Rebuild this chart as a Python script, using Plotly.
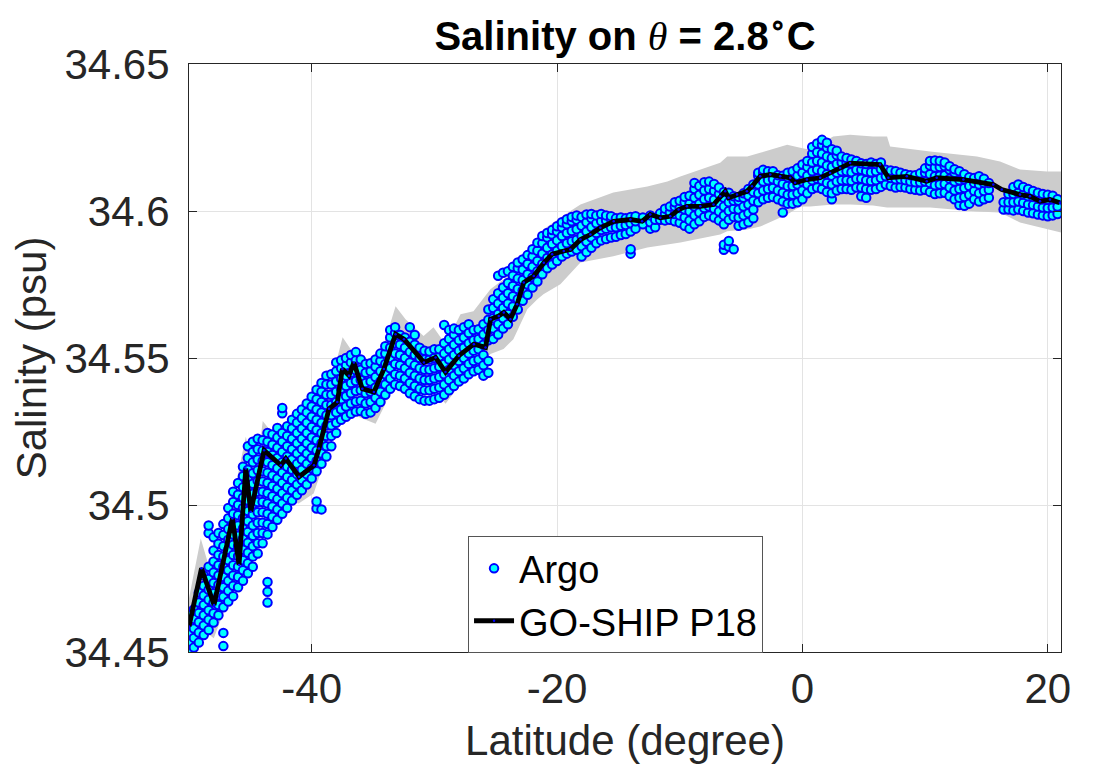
import plotly.graph_objects as go

# ---------------- data ----------------
# GO-SHIP P18 section (latitude, salinity)
ship_lat = [-50.0, -48.98, -47.96, -46.46, -45.92, -45.37, -44.97, -43.88, -42.52, -42.11,
            -41.03, -39.81, -39.41, -38.59, -37.91, -37.50, -36.96, -36.56, -35.87, -34.93,
            -34.11, -33.16, -32.48, -30.85, -29.90, -29.09, -28.00, -26.78, -25.83, -25.42,
            -24.75, -24.34, -23.80, -23.25, -22.71, -21.90, -21.08, -20.40, -19.45, -18.91,
            -18.09, -17.28, -16.47, -15.38, -14.02, -13.07, -12.40, -11.58, -10.77, -10.09,
            -9.41, -8.32, -7.24, -6.70, -6.29, -6.02, -5.33, -4.52, -4.11, -3.44,
            -2.62, -1.81, -0.99, -0.59, 0.37, 1.45, 2.26, 3.08, 3.89, 6.33,
            7.01, 8.51, 10.14, 10.95, 13.12, 15.56, 16.25, 17.74, 18.55, 19.37,
            20.18, 20.99]
ship_sal = [34.4587, 34.4785, 34.4660, 34.4954, 34.4796, 34.5124, 34.4977, 34.5186, 34.5135, 34.5158,
            34.5096, 34.5135, 34.5192, 34.5327, 34.5350, 34.5463, 34.5440, 34.5485, 34.5395, 34.5384,
            34.5463, 34.5581, 34.5564, 34.5485, 34.5502, 34.5452, 34.5508, 34.5547, 34.5536, 34.5632,
            34.5643, 34.5655, 34.5632, 34.5683, 34.5757, 34.5779, 34.5824, 34.5853, 34.5864, 34.5869,
            34.5903, 34.5920, 34.5943, 34.5965, 34.5971, 34.5965, 34.5988, 34.5977, 34.5982, 34.6005,
            34.6016, 34.6016, 34.6022, 34.6050, 34.6067, 34.6045, 34.6056, 34.6067, 34.6084, 34.6118,
            34.6124, 34.6118, 34.6113, 34.6096, 34.6107, 34.6113, 34.6129, 34.6146, 34.6163, 34.6158,
            34.6113, 34.6118, 34.6101, 34.6113, 34.6107, 34.6090, 34.6073, 34.6056, 34.6050, 34.6033,
            34.6039, 34.6028]

# GO-SHIP spread band (latitude, upper, lower)
band_lat = [-50.0, -49.04, -47.98, -46.43, -45.37, -44.56, -43.99, -42.52, -41.06, -39.84,
            -38.45, -37.48, -36.83, -35.85, -34.79, -33.98, -33.16, -32.35, -30.88, -30.07,
            -29.09, -27.87, -26.81, -25.43, -24.36, -23.56, -22.42, -21.60, -21.11, -19.73,
            -18.09, -15.41, -12.64, -11.01, -9.95, -6.70, -6.13, -4.50, -3.44, -1.24,
            -0.18, 0.63, 2.51, 3.89, 5.76, 6.90, 7.15, 10.41, 14.23, 16.11,
            17.74, 19.94, 21.08]
band_upper = [34.4683, 34.4886, 34.4734, 34.5022, 34.5232, 34.5090, 34.5286, 34.5208, 34.5175, 34.5225,
              34.5412, 34.5571, 34.5531, 34.5480, 34.5497, 34.5564, 34.5676, 34.5632, 34.5575, 34.5605,
              34.5547, 34.5649, 34.5659, 34.5734, 34.5768, 34.5792, 34.5836, 34.5876, 34.5937, 34.5978,
              34.6022, 34.6063, 34.6083, 34.6100, 34.6117, 34.6164, 34.6185, 34.6185, 34.6198, 34.6225,
              34.6215, 34.6208, 34.6253, 34.6259, 34.6253, 34.6253, 34.6219, 34.6202, 34.6185, 34.6168,
              34.6141, 34.6134, 34.6134]
band_lower = [34.4480, 34.4581, 34.4547, 34.4717, 34.4886, 34.4819, 34.5022, 34.5022, 34.5005, 34.5039,
              34.5208, 34.5310, 34.5310, 34.5293, 34.5276, 34.5344, 34.5463, 34.5446, 34.5378, 34.5395,
              34.5344, 34.5412, 34.5446, 34.5514, 34.5531, 34.5564, 34.5666, 34.5700, 34.5717, 34.5751,
              34.5825, 34.5846, 34.5876, 34.5886, 34.5893, 34.5920, 34.5931, 34.5937, 34.5947, 34.5988,
              34.6015, 34.6015, 34.6022, 34.6022, 34.6019, 34.6012, 34.6012, 34.6012, 34.5998, 34.5995,
              34.5961, 34.5937, 34.5927]

# Argo profiles, grouped by latitude column
argo_lat = [-50.0, -49.6, -49.2, -48.8, -48.4, -48.0, -47.6, -47.2, -46.8, -46.4,
            -46.0, -45.6, -45.2, -44.8, -44.4, -44.0, -43.6, -43.2, -42.8, -42.4,
            -42.0, -41.6, -41.2, -40.8, -40.4, -40.0, -39.6, -39.2, -38.8, -38.4,
            -38.0, -37.6, -37.2, -36.8, -36.4, -36.0, -35.6, -35.2, -34.8, -34.4,
            -34.0, -33.6, -33.2, -32.8, -32.4, -32.0, -31.6, -31.2, -30.8, -30.4,
            -30.0, -29.6, -29.2, -28.8, -28.4, -28.0, -27.6, -27.2, -26.8, -26.4,
            -26.0, -25.6, -25.2, -24.8, -24.4, -24.0, -23.6, -23.2, -22.8, -22.4,
            -22.0, -21.6, -21.2, -20.8, -20.4, -20.0, -19.6, -19.2, -18.8, -18.4,
            -18.0, -17.6, -17.2, -16.8, -16.4, -16.0, -15.6, -15.2, -14.8, -14.4,
            -14.0, -13.6, -13.0, -12.4, -12.0, -11.6, -11.2, -10.8, -10.4, -10.0,
            -9.6, -9.2, -8.8, -8.4, -8.0, -7.6, -7.2, -6.8, -6.4, -6.0,
            -5.6, -5.2, -4.8, -4.4, -4.0, -3.6, -3.2, -2.8, -2.4, -2.0,
            -1.6, -1.2, -0.8, -0.4, 0.0, 0.4, 0.8, 1.2, 1.6, 2.0,
            2.4, 2.8, 3.2, 3.6, 4.0, 4.4, 4.8, 5.2, 5.6, 6.0,
            6.4, 6.8, 7.2, 7.6, 8.0, 8.4, 8.8, 9.2, 9.6, 10.0,
            10.4, 10.8, 11.2, 11.6, 12.0, 12.4, 12.8, 13.2, 13.6, 14.0,
            14.4, 14.8, 15.2, 16.4, 16.8, 17.2, 17.6, 18.0, 18.4, 18.8,
            19.2, 19.6, 20.0, 20.4, 20.8]
argo_sal = [
    [34.4505, 34.4535, 34.4562, 34.4598, 34.4630],
    [34.4515, 34.4548, 34.4580, 34.4612, 34.4645],
    [34.4532, 34.4566, 34.4601, 34.4633, 34.4668, 34.4702],
    [34.4558, 34.4590, 34.4625, 34.4660, 34.4692, 34.4725, 34.4760],
    [34.4575, 34.4610, 34.4642, 34.4678, 34.4712, 34.4748, 34.4790, 34.4905, 34.4930],
    [34.4600, 34.4632, 34.4668, 34.4700, 34.4735, 34.4770, 34.4808, 34.4845, 34.4890],
    [34.4625, 34.4660, 34.4692, 34.4728, 34.4760, 34.4795, 34.4830, 34.4868, 34.4905],
    [34.4520, 34.4565, 34.4652, 34.4688, 34.4720, 34.4755, 34.4790, 34.4825, 34.4860, 34.4898, 34.4935],
    [34.4672, 34.4708, 34.4742, 34.4778, 34.4812, 34.4848, 34.4882, 34.4918, 34.4955, 34.4990],
    [34.4690, 34.4725, 34.4760, 34.4795, 34.4830, 34.4865, 34.4900, 34.4935, 34.4970, 34.5010, 34.5045],
    [34.4720, 34.4755, 34.4790, 34.4826, 34.4860, 34.4895, 34.4930, 34.4965, 34.5000, 34.5035, 34.5075],
    [34.4742, 34.4778, 34.4812, 34.4848, 34.4885, 34.4920, 34.4955, 34.4990, 34.5025, 34.5060, 34.5098, 34.5130],
    [34.4768, 34.4802, 34.4838, 34.4872, 34.4908, 34.4945, 34.4980, 34.5015, 34.5050, 34.5085, 34.5120, 34.5160, 34.5200],
    [34.4790, 34.4825, 34.4860, 34.4895, 34.4930, 34.4968, 34.5002, 34.5038, 34.5072, 34.5108, 34.5145, 34.5180, 34.5215],
    [34.4835, 34.4870, 34.4905, 34.4940, 34.4975, 34.5010, 34.5045, 34.5082, 34.5118, 34.5155, 34.5190, 34.5225],
    [34.4870, 34.4905, 34.4940, 34.4975, 34.5010, 34.5045, 34.5080, 34.5115, 34.5150, 34.5185, 34.5220],
    [34.4668, 34.4705, 34.4738, 34.4900, 34.4935, 34.4970, 34.5005, 34.5040, 34.5075, 34.5110, 34.5145, 34.5180, 34.5215, 34.5245],
    [34.4925, 34.4960, 34.4995, 34.5030, 34.5065, 34.5100, 34.5135, 34.5170, 34.5205, 34.5240],
    [34.4950, 34.4985, 34.5020, 34.5055, 34.5090, 34.5125, 34.5160, 34.5195, 34.5230, 34.5262],
    [34.4970, 34.5005, 34.5040, 34.5075, 34.5110, 34.5145, 34.5180, 34.5215, 34.5245, 34.5312, 34.5330],
    [34.4990, 34.5025, 34.5060, 34.5095, 34.5130, 34.5165, 34.5200, 34.5235, 34.5268],
    [34.5015, 34.5050, 34.5085, 34.5120, 34.5155, 34.5190, 34.5225, 34.5260, 34.5290],
    [34.5035, 34.5070, 34.5105, 34.5140, 34.5175, 34.5210, 34.5245, 34.5280, 34.5310],
    [34.5050, 34.5085, 34.5120, 34.5155, 34.5190, 34.5225, 34.5260, 34.5295, 34.5325],
    [34.5070, 34.5105, 34.5140, 34.5175, 34.5210, 34.5245, 34.5280, 34.5315, 34.5345],
    [34.5090, 34.5125, 34.5160, 34.5195, 34.5230, 34.5265, 34.5300, 34.5335, 34.5368],
    [34.4988, 34.5012, 34.5115, 34.5150, 34.5185, 34.5220, 34.5255, 34.5290, 34.5325, 34.5360, 34.5392],
    [34.4985, 34.5140, 34.5175, 34.5210, 34.5245, 34.5280, 34.5315, 34.5350, 34.5385, 34.5415],
    [34.5165, 34.5200, 34.5235, 34.5270, 34.5305, 34.5340, 34.5375, 34.5410, 34.5440],
    [34.5200, 34.5235, 34.5270, 34.5305, 34.5340, 34.5375, 34.5410, 34.5445],
    [34.5245, 34.5280, 34.5315, 34.5350, 34.5385, 34.5420, 34.5455, 34.5485],
    [34.5290, 34.5325, 34.5360, 34.5395, 34.5430, 34.5465, 34.5492],
    [34.5300, 34.5335, 34.5370, 34.5405, 34.5440, 34.5475, 34.5500],
    [34.5310, 34.5345, 34.5380, 34.5415, 34.5450, 34.5485, 34.5510],
    [34.5318, 34.5352, 34.5388, 34.5422, 34.5458, 34.5492, 34.5520],
    [34.5320, 34.5355, 34.5390, 34.5425, 34.5460, 34.5495],
    [34.5310, 34.5345, 34.5380, 34.5415, 34.5450, 34.5480],
    [34.5315, 34.5350, 34.5385, 34.5420, 34.5455, 34.5482],
    [34.5330, 34.5365, 34.5400, 34.5435, 34.5470, 34.5495],
    [34.5350, 34.5385, 34.5420, 34.5455, 34.5490, 34.5515],
    [34.5375, 34.5410, 34.5445, 34.5480, 34.5515, 34.5540],
    [34.5395, 34.5430, 34.5465, 34.5500, 34.5535, 34.5570, 34.5595],
    [34.5410, 34.5445, 34.5480, 34.5515, 34.5550, 34.5585, 34.5605],
    [34.5405, 34.5440, 34.5475, 34.5510, 34.5545, 34.5578],
    [34.5395, 34.5430, 34.5465, 34.5500, 34.5535, 34.5570],
    [34.5380, 34.5415, 34.5450, 34.5485, 34.5520, 34.5555, 34.5605],
    [34.5370, 34.5405, 34.5440, 34.5475, 34.5510, 34.5545, 34.5578],
    [34.5360, 34.5395, 34.5430, 34.5465, 34.5500, 34.5535],
    [34.5355, 34.5390, 34.5425, 34.5460, 34.5495, 34.5525],
    [34.5355, 34.5390, 34.5425, 34.5460, 34.5495, 34.5522],
    [34.5360, 34.5395, 34.5430, 34.5465, 34.5500, 34.5530],
    [34.5365, 34.5400, 34.5435, 34.5470, 34.5505, 34.5530],
    [34.5375, 34.5410, 34.5445, 34.5480, 34.5515, 34.5550, 34.5612],
    [34.5390, 34.5425, 34.5460, 34.5495, 34.5530, 34.5565, 34.5595],
    [34.5405, 34.5440, 34.5475, 34.5510, 34.5545, 34.5580, 34.5600],
    [34.5420, 34.5455, 34.5490, 34.5525, 34.5560, 34.5595],
    [34.5430, 34.5465, 34.5500, 34.5535, 34.5570, 34.5605],
    [34.5445, 34.5480, 34.5515, 34.5550, 34.5585, 34.5615],
    [34.5455, 34.5490, 34.5525, 34.5560, 34.5595],
    [34.5460, 34.5495, 34.5530, 34.5565, 34.5598],
    [34.5440, 34.5475, 34.5510, 34.5545, 34.5580, 34.5615],
    [34.5450, 34.5490, 34.5560, 34.5595, 34.5630, 34.5665],
    [34.5565, 34.5600, 34.5635, 34.5670, 34.5700],
    [34.5580, 34.5615, 34.5650, 34.5685, 34.5720, 34.5780],
    [34.5600, 34.5635, 34.5670, 34.5705, 34.5740, 34.5790],
    [34.5615, 34.5650, 34.5685, 34.5720, 34.5755, 34.5795],
    [34.5640, 34.5675, 34.5710, 34.5745, 34.5780, 34.5810],
    [34.5665, 34.5700, 34.5735, 34.5770, 34.5805, 34.5825],
    [34.5695, 34.5730, 34.5765, 34.5800, 34.5835],
    [34.5715, 34.5750, 34.5785, 34.5820, 34.5850],
    [34.5740, 34.5775, 34.5810, 34.5845, 34.5870],
    [34.5760, 34.5795, 34.5830, 34.5865, 34.5892],
    [34.5785, 34.5820, 34.5855, 34.5890, 34.5915],
    [34.5805, 34.5840, 34.5875, 34.5910, 34.5925],
    [34.5818, 34.5852, 34.5888, 34.5920, 34.5935],
    [34.5830, 34.5865, 34.5900, 34.5930, 34.5948],
    [34.5845, 34.5880, 34.5915, 34.5945, 34.5962],
    [34.5855, 34.5890, 34.5925, 34.5955, 34.5972],
    [34.5862, 34.5897, 34.5932, 34.5965, 34.5980],
    [34.5868, 34.5902, 34.5938, 34.5970, 34.5985],
    [34.5845, 34.5880, 34.5915, 34.5950, 34.5980],
    [34.5860, 34.5895, 34.5930, 34.5962, 34.5988],
    [34.5875, 34.5910, 34.5945, 34.5975, 34.5990],
    [34.5890, 34.5925, 34.5958, 34.5985],
    [34.5900, 34.5935, 34.5965, 34.5990],
    [34.5905, 34.5940, 34.5968, 34.5985],
    [34.5910, 34.5945, 34.5972, 34.5982],
    [34.5912, 34.5945, 34.5975],
    [34.5918, 34.5950, 34.5978],
    [34.5922, 34.5952, 34.5975],
    [34.5855, 34.5870, 34.5930, 34.5958, 34.5980],
    [34.5940, 34.5965, 34.5982],
    [34.5955, 34.5978],
    [34.5940, 34.5962, 34.5985],
    [34.5945, 34.5970],
    [34.5970, 34.5992],
    [34.5968, 34.5990, 34.6008],
    [34.5970, 34.5995, 34.6015],
    [34.5965, 34.5990, 34.6015, 34.6030],
    [34.5960, 34.5985, 34.6010, 34.6035],
    [34.5950, 34.5978, 34.6005, 34.6030, 34.6048],
    [34.5940, 34.5968, 34.5998, 34.6025, 34.6052],
    [34.5955, 34.5985, 34.6015, 34.6045, 34.6075, 34.6095],
    [34.5965, 34.5995, 34.6025, 34.6055, 34.6085],
    [34.5980, 34.6010, 34.6040, 34.6070, 34.6098],
    [34.5985, 34.6015, 34.6045, 34.6075, 34.6100],
    [34.5978, 34.6008, 34.6038, 34.6068, 34.6092],
    [34.5968, 34.5998, 34.6028, 34.6058, 34.6080],
    [34.5868, 34.5885, 34.5955, 34.5985, 34.6015, 34.6045, 34.6065],
    [34.5878, 34.5898, 34.5970, 34.6000, 34.6030, 34.6062],
    [34.5870, 34.5980, 34.6008, 34.6035, 34.6050],
    [34.5950, 34.5978, 34.6005, 34.6035, 34.6048],
    [34.5955, 34.5985, 34.6015, 34.6045, 34.6060],
    [34.5962, 34.5992, 34.6022, 34.6052, 34.6075],
    [34.5975, 34.6005, 34.6035, 34.6065, 34.6090],
    [34.6030, 34.6060, 34.6090, 34.6120, 34.6130],
    [34.6040, 34.6070, 34.6100, 34.6130, 34.6140],
    [34.6045, 34.6075, 34.6105, 34.6135],
    [34.6048, 34.6078, 34.6108, 34.6135],
    [34.6040, 34.6070, 34.6100, 34.6122],
    [34.5995, 34.6032, 34.6062, 34.6092, 34.6120],
    [34.6025, 34.6055, 34.6085, 34.6115, 34.6130],
    [34.6025, 34.6055, 34.6085, 34.6115, 34.6135],
    [34.6030, 34.6060, 34.6090, 34.6120, 34.6145],
    [34.6040, 34.6070, 34.6100, 34.6130, 34.6158],
    [34.6060, 34.6090, 34.6120, 34.6150, 34.6170],
    [34.6075, 34.6105, 34.6135, 34.6165, 34.6195, 34.6218],
    [34.6080, 34.6110, 34.6140, 34.6170, 34.6200, 34.6230],
    [34.6075, 34.6105, 34.6135, 34.6165, 34.6195, 34.6225, 34.6242],
    [34.6065, 34.6095, 34.6125, 34.6155, 34.6185, 34.6215, 34.6232],
    [34.6040, 34.6060, 34.6090, 34.6120, 34.6150, 34.6180, 34.6210],
    [34.6070, 34.6100, 34.6130, 34.6160, 34.6190, 34.6205],
    [34.6075, 34.6105, 34.6135, 34.6165, 34.6185],
    [34.6075, 34.6105, 34.6135, 34.6165, 34.6180],
    [34.6072, 34.6102, 34.6132, 34.6162, 34.6175],
    [34.6080, 34.6110, 34.6140, 34.6170],
    [34.6050, 34.6080, 34.6110, 34.6140, 34.6162],
    [34.6045, 34.6075, 34.6105, 34.6135, 34.6160],
    [34.6072, 34.6102, 34.6132, 34.6165],
    [34.6075, 34.6105, 34.6135, 34.6160],
    [34.6082, 34.6112, 34.6142, 34.6165],
    [34.6090, 34.6118, 34.6140],
    [34.6085, 34.6112, 34.6138],
    [34.6080, 34.6108, 34.6135],
    [34.6082, 34.6108, 34.6130],
    [34.6080, 34.6105, 34.6125],
    [34.6075, 34.6100, 34.6122],
    [34.6072, 34.6098, 34.6122],
    [34.6070, 34.6098, 34.6128],
    [34.6072, 34.6100, 34.6130, 34.6145],
    [34.6065, 34.6095, 34.6125, 34.6155, 34.6170],
    [34.6058, 34.6088, 34.6118, 34.6148, 34.6172],
    [34.6060, 34.6090, 34.6120, 34.6150, 34.6170],
    [34.6062, 34.6092, 34.6122, 34.6152, 34.6165],
    [34.6050, 34.6080, 34.6110, 34.6140, 34.6152],
    [34.6040, 34.6070, 34.6100, 34.6130, 34.6142],
    [34.6020, 34.6045, 34.6075, 34.6105, 34.6135],
    [34.6018, 34.6048, 34.6078, 34.6108, 34.6125],
    [34.6025, 34.6055, 34.6085, 34.6115],
    [34.6040, 34.6068, 34.6095, 34.6112],
    [34.6032, 34.6060, 34.6090, 34.6118],
    [34.6040, 34.6068, 34.6095, 34.6110],
    [34.6045, 34.6072, 34.6095],
    [34.6005, 34.6030],
    [34.6005, 34.6030, 34.6058],
    [34.6002, 34.6030, 34.6058, 34.6082],
    [34.6005, 34.6032, 34.6062, 34.6090],
    [34.6000, 34.6028, 34.6056, 34.6082],
    [34.5995, 34.6022, 34.6050, 34.6075],
    [34.5992, 34.6020, 34.6048, 34.6068],
    [34.5988, 34.6015, 34.6042, 34.6062],
    [34.5985, 34.6012, 34.6040, 34.6058],
    [34.5982, 34.6010, 34.6038, 34.6055],
    [34.5985, 34.6012, 34.6040, 34.6052],
    [34.5990, 34.6015, 34.6040],
]

y_ticks = [34.45, 34.5, 34.55, 34.6, 34.65]
y_tick_text = ["34.45", "34.5", "34.55", "34.6", "34.65"]
x_ticks = [-40, -20, 0, 20]
x_tick_text = ["-40", "-20", "0", "20"]

# ---------------- figure ----------------
pts_x = []
pts_y = []
for lat, col in zip(argo_lat, argo_sal):
    for s in col:
        pts_x.append(lat)
        pts_y.append(s)

FONT = "Liberation Sans, Arial, Helvetica, sans-serif"
INK = "#262626"

fig = go.Figure()
fig.add_trace(go.Scatter(x=band_lat, y=band_lower, mode="lines",
                         line=dict(width=0, color="#cccccc"),
                         showlegend=False, hoverinfo="skip"))
fig.add_trace(go.Scatter(x=band_lat, y=band_upper, mode="lines",
                         line=dict(width=0, color="#cccccc"),
                         fill="tonexty", fillcolor="#cccccc",
                         showlegend=False, hoverinfo="skip"))
fig.add_trace(go.Scatter(x=pts_x, y=pts_y, mode="markers", name="Argo",
                         marker=dict(size=8.5, color="#00ffff",
                                     line=dict(color="#0000ff", width=2))))
fig.add_trace(go.Scatter(x=ship_lat, y=ship_sal, mode="lines+markers", name="GO-SHIP P18",
                         line=dict(color="black", width=4.8),
                         marker=dict(size=2.5, color="#0000ff")))

axis_common = dict(
    showline=True, linecolor=INK, linewidth=1, mirror="ticks",
    ticks="inside", ticklen=8, tickcolor=INK, tickwidth=1,
    showgrid=True, gridcolor="#e3e3e3", gridwidth=1,
    zeroline=False,
    tickfont=dict(family=FONT, size=42, color=INK),
)

title_text = ("<b>Salinity on </b>"
              "<span style=\"font-family:'Liberation Serif', 'DejaVu Serif', serif;font-style:italic\">θ</span>"
              "<b> = 2.8<sup>∘</sup>C</b>")

fig.update_layout(
    width=1096, height=768,
    margin=dict(l=189, r=35, t=64, b=114),
    paper_bgcolor="white", plot_bgcolor="white",
    title=dict(text=title_text,
               font=dict(family=FONT, size=40, color="black"),
               x=0.5, xref="paper", xanchor="center",
               y=1 - 36 / 768, yref="container", yanchor="middle"),
    xaxis=dict(range=[-50, 21.08], tickvals=x_ticks, ticktext=x_tick_text,
               title=dict(text="Latitude (degree)", font=dict(family=FONT, size=42, color=INK),
                          standoff=14),
               **axis_common),
    yaxis=dict(range=[34.45, 34.65], tickvals=y_ticks, ticktext=y_tick_text,
               ticklabelstandoff=10,
               title=dict(text="Salinity (psu)", font=dict(family=FONT, size=42, color=INK),
                          standoff=4),
               **axis_common),
    legend=dict(x=0.32, y=0.197, xanchor="left", yanchor="top",
                traceorder="normal",
                bgcolor="white", bordercolor="#555555", borderwidth=1,
                font=dict(family=FONT, size=38, color="black"),
                tracegroupgap=0, itemwidth=40),
    showlegend=True,
)

fig.write_html("out.html")
